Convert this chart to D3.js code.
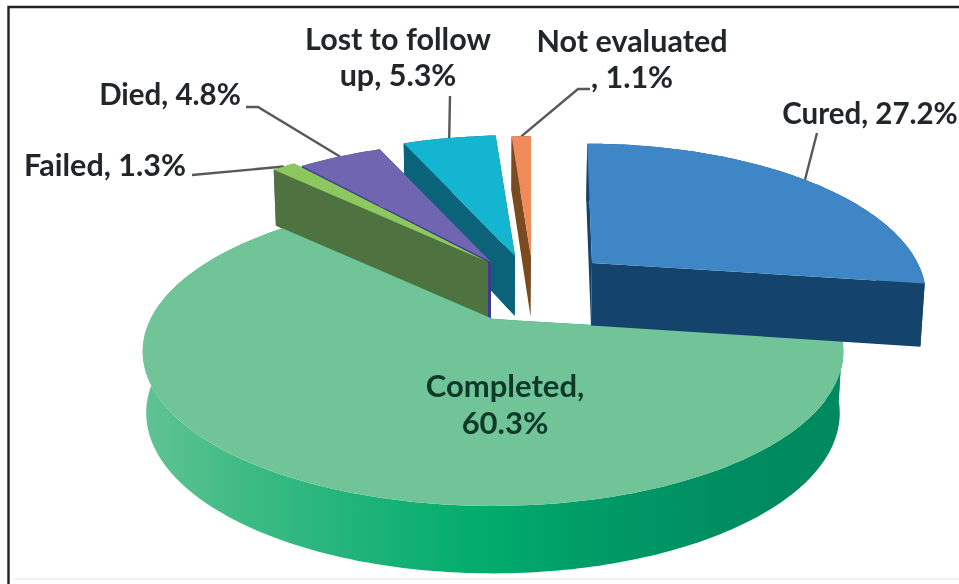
<!DOCTYPE html>
<html><head><meta charset="utf-8">
<script src="https://cdn.jsdelivr.net/npm/d3@7/dist/d3.min.js"></script>
<style>html,body{margin:0;padding:0;background:#fff}svg{display:block}
text{font-family:Lato,"Open Sans",sans-serif;font-weight:700;fill:#23262b;text-anchor:middle;filter:url(#soft)}</style>
</head><body><svg id="c" width="959" height="584"></svg>
<script>
// ---- data ----
const categories = ["Cured","Completed","Failed","Died","Lost to follow up","Not evaluated"];
const values = [27.2,60.3,1.3,4.8,5.3,1.1];
const labelLines = [["Cured, 27.2%"],["Completed,","60.3%"],["Failed, 1.3%"],["Died, 4.8%"],["Lost to follow","up, 5.3%"],["Not evaluated",", 1.1%"]];
const topColors = ["#3e86c6","#70c498","#8cc85e","#7065b0","#13b5d0","#f08c5c"];
const wallColors = ["#14446c","#00966a","#4f7340","#3f3a90","#0a6378","#7a4a20"];

// ---- layout ----
const apexX = [592,493,488,491,515,531];
const apexY = [263,319,262,262,256,257];
const radiusK = [0.985,1.01,1.03,1,1,1];
const widthK = [0.975,1,1,1,1,1];
const shearK = [0.04,0,0,0,0,0];
const depthK = [1.04,1,1,1,1,1];
const labelX = [870,505,105,170,398,632];
const labelY = [124,397,176,105,50,52];
const labelStep = [36,37,36,36,36,36];
const labelSize = [29.5,31,30.5,29.5,30.5,30.5];
const elbowFrom = [[817,133],null,[192,175],[246,107],[450,96],[590,89]];
const elbowMid = [null,null,null,[258,107],null,[578,89]];
const R = 339, KR = 146, P = 0.209, DEPTH = 60, VAN_X = 490, VAN_K = 0.99;

const svg = d3.select("#c");
const defs = svg.append("defs");
defs.append("filter").attr("id","soft").attr("x","-5%").attr("y","-10%").attr("width","110%").attr("height","120%")
  .append("feGaussianBlur").attr("stdDeviation",0.45);
const grad = defs.append("linearGradient").attr("id","rim").attr("gradientUnits","userSpaceOnUse")
  .attr("x1",143).attr("x2",843).attr("y1",0).attr("y2",0);
[[0,"#62c294"],[0.15,"#3dbb84"],[0.38,"#12b075"],[0.5,"#00ab6b"],[0.66,"#009a66"],[0.85,"#008c60"],[1,"#008a5e"]]
  .forEach(s=>grad.append("stop").attr("offset",s[0]).attr("stop-color",s[1]));

const arcs = d3.pie().sort(null).value(d=>d).startAngle(0).endAngle(2*Math.PI)(values);
const line = d3.line();

function proj(i,a,r,z){
  const k = r*radiusK[i], u = k*Math.sin(a), v = -k*Math.cos(a);
  const w = 1/(1-P*v);
  const dy = KR*v*w;
  let x = apexX[i]+R*u*w*widthK[i]+shearK[i]*dy, y = apexY[i]+dy;
  if(z){
    const wa = r ? 1/(1+P*Math.cos(a)) : 1;
    y += DEPTH*depthK[i]*Math.sqrt(wa);
    x = VAN_X+(x-VAN_X)*VAN_K;
  }
  return [x,y];
}
function arcPts(i,a0,a1,z){
  const n = Math.max(4,Math.ceil((a1-a0)*60));
  return d3.range(n+1).map(j=>proj(i,a0+(a1-a0)*j/n,1,z));
}

// frame
svg.append("rect").attr("x",14).attr("y",578).attr("width",945).attr("height",2).attr("fill","#f1f1f1");
svg.append("path").attr("d","M8.5,584V7H959").attr("fill","none").attr("stroke","#222").attr("stroke-width",2.4);

// leader lines
categories.forEach((c,i)=>{
  if(!elbowFrom[i]) return;
  const mid=(arcs[i].startAngle+arcs[i].endAngle)/2;
  const pts=[elbowFrom[i]];
  if(elbowMid[i]) pts.push(elbowMid[i]);
  pts.push(proj(i,mid,1,false));
  svg.append("path").attr("d",line(pts)).attr("fill","none").attr("stroke","#55585c").attr("stroke-width",2.4);
});

// slices, back to front
[5,4,3,2,1,0].forEach(i=>{
  const a0=arcs[i].startAngle,a1=arcs[i].endAngle;
  const g=svg.append("g").attr("class","slice").attr("data-name",categories[i]);
  const top=arcPts(i,a0,a1,false), bot=arcPts(i,a0,a1,true);
  const apexTop=proj(i,0,0,false), apexBot=proj(i,0,0,true);
  g.append("path").attr("d",line([apexTop,top[0],bot[0],apexBot])+"Z").attr("fill",wallColors[i]);
  g.append("path").attr("d",line([apexTop,top[top.length-1],bot[bot.length-1],apexBot])+"Z").attr("fill",wallColors[i]);
  g.append("path").attr("d",line(top.concat(bot.slice().reverse()))+"Z").attr("fill",i===1?"url(#rim)":wallColors[i]);
  g.append("path").attr("d",line([apexTop].concat(top))+"Z").attr("fill",topColors[i]);
});

// labels
labelLines.forEach((lines,i)=>lines.forEach((t,j)=>{
  svg.append("text").attr("x",labelX[i]).attr("y",labelY[i]+j*labelStep[i])
    .style("font-size",labelSize[i]+"px")
    .style("fill",i===1?"#10392c":null).text(t);
}));
</script></body></html>
